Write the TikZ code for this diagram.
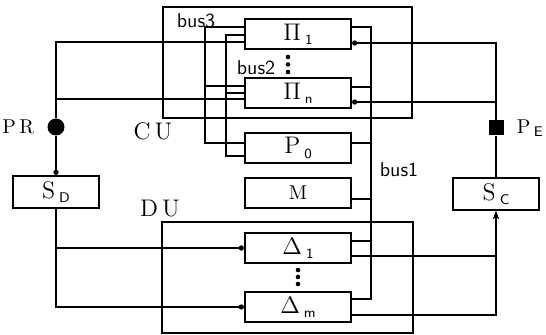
\documentclass[tikz,border=0pt]{standalone}
\usepackage{tikz}
\usetikzlibrary{positioning, calc, arrows.meta}
\newcommand{\boxlab}[2]{#1\,\raisebox{-0.4ex}{\sffamily\scriptsize #2}}

\begin{document}
\begin{tikzpicture}[x=0.5pt,y=-0.5pt,
    blocco/.style={draw, line width=1.1pt, minimum width=53pt, minimum height=15pt, inner sep=0pt, font=\large},
    cornice/.style={draw, line width=0.6pt, inner sep=0pt},
    filo/.style={line width=0.55pt},
    pallino/.style={-{Circle[length=2.6pt]}},
    freccia/.style={-{Stealth[length=4pt,width=3pt]}},
    etich/.style={font=\sffamily}]
        \useasboundingbox (0,0) rectangle (546,335);
        %cornici CU e DU
        \node[cornice, minimum width=124.5pt, minimum height=55.5pt] (cu) at (287.5,62.5) {};
        \node[cornice, minimum width=125.5pt, minimum height=55.5pt] (du) at (287.5,277.5) {};
        %blocchi
        \node[blocco] (pi1) at (298,34) {\boxlab{$\Pi$}{1}};
        \node[blocco] (pin) at (298,93) {\boxlab{$\Pi$}{n}};
        \node[blocco] (pz) at (298,148) {\boxlab{P}{0}};
        \node[blocco, font=\normalsize] (mem) at (298,193) {M};
        \node[blocco] (d1) at (298,248) {\boxlab{$\Delta$}{1}};
        \node[blocco] (dm) at (298,307) {\boxlab{$\Delta$}{m}};
        \node[blocco, minimum width=43pt, minimum height=16pt] (sd) at (56,192) {\boxlab{S}{D}};
        \node[blocco, minimum width=43pt, minimum height=16pt] (sc) at (496,194) {\boxlab{S}{C}};
        %porte
        \node[circle, fill, inner sep=0pt, minimum size=8.5pt] (pr) at (56,127) {};
        \node[rectangle, fill, inner sep=0pt, minimum size=7.5pt] (pe) at (496,128) {};
        \node[left=3pt of pr] (prl) {P\,R};
        \node[right=3pt of pe] (pel) {\boxlab{P}{E}};
        %etichette
        \node[font=\large] (cul) at (153,131) {C\,U};
        \node[font=\large] (dul) at (160,209) {D\,U};
        \node[etich] (b1l) at (399,170) {bus1};
        \node[etich] (b2l) at (256,68) {bus2};
        \node[etich] (b3l) at (196,21) {bus3};
        %puntini
        \foreach \k in {0,1,2} {
            \fill (288,57+7.5*\k) circle (1.15pt);
            \fill (298,270+7*\k) circle (1.15pt);
        }
        %punti dei bus
        \coordinate (b3t) at (205,27);
        \coordinate (b3n) at (205,86);
        \coordinate (b3b) at (205,143);
        \coordinate (b2t) at (226,35);
        \coordinate (b2n) at (226,93);
        \coordinate (b2b) at (226,156);
        \coordinate (b1t) at (371,27);
        \coordinate (b1n) at (371,87);
        \coordinate (b1p) at (371,143);
        \coordinate (b1m) at (371,199);
        \coordinate (b1d) at (371,241);
        \coordinate (b1b) at (371,299);
        %bus3 e bus2
        \draw[filo] (b3t -| pi1.west) -- (b3t) -- (b3b) -- (b3b -| pz.west);
        \draw[filo] (b3n) -- (b3n -| pin.west);
        \draw[filo] (b2t -| pi1.west) -- (b2t) -- (b2b) -- (b2b -| pz.west);
        \draw[filo] (b2n) -- (b2n -| pin.west);
        %bus1
        \draw[filo] (b1t -| pi1.east) -- (b1t) -- (b1b) -- (b1b -| dm.east);
        \foreach \c/\n in {b1n/pin, b1p/pz, b1m/mem, b1d/d1}
            \draw[filo] (\c) -- (\c -| \n.east);
        %collegamenti esterni
        \coordinate (pa) at (56,42);
        \coordinate (pb) at (56,99);
        \coordinate (qa) at (496,43);
        \coordinate (qb) at (496,102);
        \draw[filo] (pr) -- (pa) -- (pa -| pi1.west);
        \draw[filo] (pb) -- (pb -| pin.west);
        \draw[filo, pallino] (pr) -- (sd);
        \draw[filo, pallino] (sd) |- (d1);
        \draw[filo, pallino] (sd) |- (dm);
        \draw[filo] (pe) -- (sc);
        \draw[filo, pallino] (pe) -- (qa) -- (qa -| pi1.east);
        \draw[filo, pallino] (qb) -- (qb -| pin.east);
        \draw[filo, freccia] ([yshift=-4pt]d1.east) -| (sc);
        \draw[filo, freccia] ([yshift=-4pt]dm.east) -| (sc);
\end{tikzpicture}
\end{document}
